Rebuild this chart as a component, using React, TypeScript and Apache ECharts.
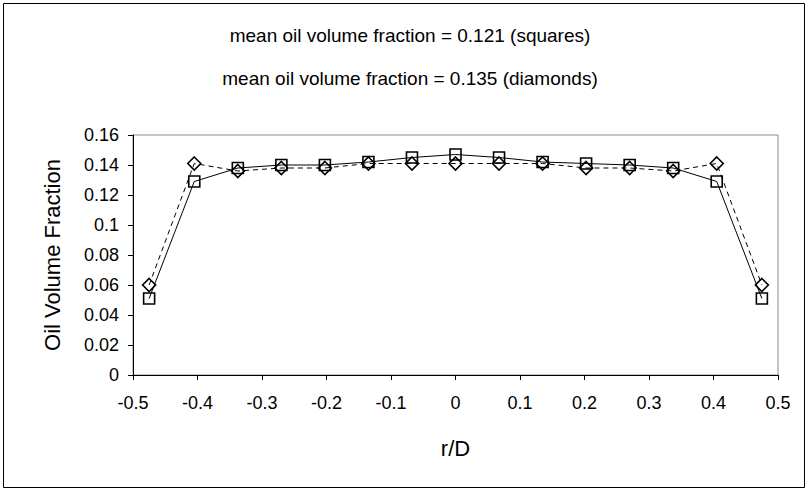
import React, { useEffect, useRef } from "react";
import * as echarts from "echarts";

const rOverD = [-0.475, -0.405, -0.3375, -0.27, -0.2025, -0.135, -0.0675, 0, 0.0675, 0.135, 0.2025, 0.27, 0.3375, 0.405, 0.475];
const squares = [0.051, 0.129, 0.138, 0.140, 0.140, 0.142, 0.145, 0.147, 0.145, 0.142, 0.141, 0.140, 0.138, 0.129, 0.051];
const diamonds = [0.060, 0.141, 0.136, 0.138, 0.138, 0.141, 0.141, 0.141, 0.141, 0.141, 0.138, 0.138, 0.136, 0.141, 0.060];
const titleLines = [
  "mean oil volume fraction = 0.121 (squares)",
  "mean oil volume fraction = 0.135 (diamonds)",
];
const yTitle = "Oil Volume Fraction";
const xTitle = "r/D";

const FONT = "'Liberation Sans', Arial, sans-serif";

export default function App() {
  const ref = useRef<HTMLDivElement>(null);
  useEffect(() => {
    if (!ref.current) return;
    const chart = echarts.init(ref.current, null, { renderer: "svg" });
    const fmt = (v: number) => String(+v.toFixed(2));
    chart.setOption({
      animation: false,
      backgroundColor: "#fff",
      textStyle: { fontFamily: FONT, color: "#000" },
      grid: { left: 133, right: 31, top: 135, bottom: 117, show: true, borderColor: "#8c8c8c", borderWidth: 1, backgroundColor: "#fff" },
      graphic: [
        { type: "rect", shape: { x: 3.5, y: 3.5, width: 801, height: 484 }, style: { fill: "none", stroke: "#000", lineWidth: 1 }, silent: true },
        { type: "text", x: 410, y: 35, style: { text: titleLines[0], font: `19px ${FONT}`, fill: "#000", textAlign: "center", textVerticalAlign: "middle" } },
        { type: "text", x: 410, y: 78, style: { text: titleLines[1], font: `19px ${FONT}`, fill: "#000", textAlign: "center", textVerticalAlign: "middle" } },
      ],
      xAxis: {
        type: "value",
        min: -0.5,
        max: 0.5,
        interval: 0.1,
        name: xTitle,
        nameLocation: "middle",
        nameGap: 62,
        nameTextStyle: { fontSize: 22, color: "#000", fontFamily: FONT },
        axisLine: { onZero: false, lineStyle: { color: "#000", width: 1 } },
        axisTick: { show: true, inside: false, length: 5, lineStyle: { color: "#000" } },
        axisLabel: { fontSize: 18, color: "#000", margin: 19, formatter: fmt, fontFamily: FONT },
        splitLine: { show: false },
      },
      yAxis: {
        type: "value",
        min: 0,
        max: 0.16,
        interval: 0.02,
        name: yTitle,
        nameLocation: "middle",
        nameGap: 70,
        nameTextStyle: { fontSize: 22, color: "#000", fontFamily: FONT },
        axisLine: { show: true, onZero: false, lineStyle: { color: "#000", width: 1 } },
        axisTick: { show: true, inside: false, length: 5, lineStyle: { color: "#000" } },
        axisLabel: { fontSize: 18, color: "#000", margin: 14, formatter: fmt, fontFamily: FONT },
        splitLine: { show: false },
      },
      series: [
        {
          name: "squares",
          type: "line",
          data: rOverD.map((x, i) => [x, squares[i]]),
          symbol: "rect",
          symbolSize: 11,
          lineStyle: { color: "#000", width: 1, type: "solid" },
          itemStyle: { color: "none", borderColor: "#000", borderWidth: 1.6 },
        },
        {
          name: "diamonds",
          type: "line",
          data: rOverD.map((x, i) => [x, diamonds[i]]),
          symbol: "diamond",
          symbolSize: 13,
          lineStyle: { color: "#000", width: 1, type: [5, 4] },
          itemStyle: { color: "none", borderColor: "#000", borderWidth: 1.6 },
        },
      ],
    });
    return () => chart.dispose();
  }, []);
  return <div ref={ref} style={{ position: "fixed", left: 0, top: 0, width: 809, height: 492 }} />;
}
